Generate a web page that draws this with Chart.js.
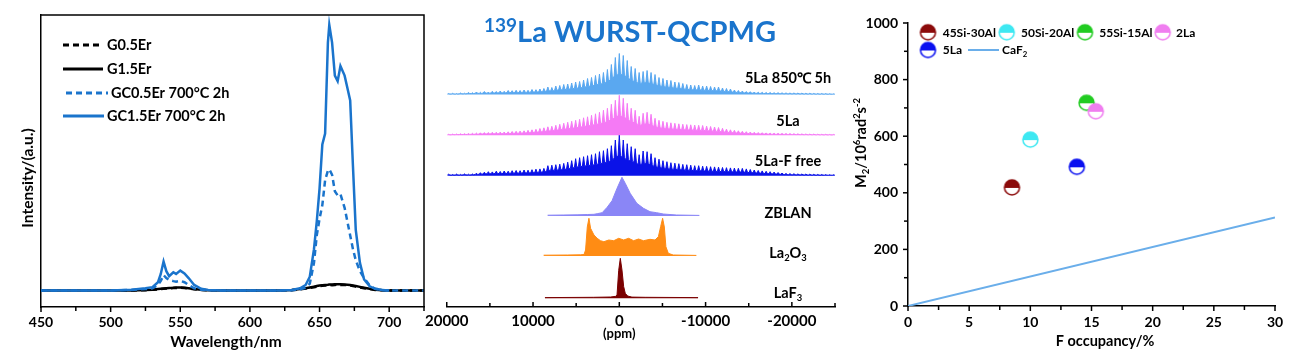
<!DOCTYPE html>
<html>
<head>
<meta charset="utf-8">
<script src="https://cdn.jsdelivr.net/npm/chart.js@4.4.1/dist/chart.umd.min.js"></script>
<style>
  body { margin: 0; background: #fff; width: 1299px; height: 358px; overflow: hidden; position: relative; }
  canvas { position: absolute; top: 0; }
  #pl { left: 0; }
  #nmr { left: 420px; }
  #m2 { left: 845px; }
</style>
</head>
<body>
<canvas id="pl" width="440" height="358"></canvas>
<canvas id="nmr" width="450" height="358"></canvas>
<canvas id="m2" width="454" height="358"></canvas>
<script>
// ---------- panel 1: emission spectra ----------
const wavelength = [450, 500, 515, 525, 530, 534, 536, 538, 540, 542, 545, 547, 550, 553, 556, 560, 565, 570, 580, 620,
  630, 636, 640, 643, 646, 648, 650, 652, 654, 656, 657, 659, 661, 663, 665, 668, 670, 672, 674, 676, 679, 682, 686, 690, 695, 700, 725];
const g05Er = [0, 0, 0, 0.001, 0.003, 0.004, 0.005, 0.006, 0.007, 0.008, 0.009, 0.009, 0.01, 0.009, 0.007, 0.004, 0.002, 0.001, 0, 0,
  0.001, 0.004, 0.007, 0.009, 0.012, 0.014, 0.016, 0.017, 0.018, 0.019, 0.02, 0.019, 0.02, 0.021, 0.02, 0.02, 0.019, 0.018, 0.016, 0.014, 0.011, 0.008, 0.005, 0.002, 0.001, 0, 0];
const g15Er = [0, 0, 0, 0.002, 0.003, 0.005, 0.006, 0.007, 0.008, 0.009, 0.01, 0.011, 0.011, 0.01, 0.008, 0.005, 0.003, 0.001, 0, 0,
  0.002, 0.005, 0.008, 0.011, 0.014, 0.016, 0.018, 0.019, 0.02, 0.021, 0.022, 0.022, 0.023, 0.023, 0.023, 0.022, 0.021, 0.02, 0.018, 0.016, 0.013, 0.01, 0.006, 0.003, 0.001, 0, 0];
const gc05Er = [0, 0, 0.002, 0.005, 0.008, 0.02, 0.035, 0.056, 0.045, 0.038, 0.034, 0.032, 0.035, 0.03, 0.02, 0.008, 0.003, 0.001, 0, 0,
  0.001, 0.004, 0.01, 0.025, 0.1, 0.2, 0.26, 0.31, 0.4, 0.435, 0.44, 0.42, 0.36, 0.345, 0.35, 0.3, 0.25, 0.2, 0.15, 0.11, 0.07, 0.045, 0.018, 0.006, 0.002, 0, 0];
const gc15Er = [0, 0, 0.003, 0.008, 0.012, 0.03, 0.06, 0.105, 0.07, 0.052, 0.066, 0.06, 0.072, 0.062, 0.045, 0.02, 0.006, 0.002, 0, 0,
  0.002, 0.008, 0.02, 0.05, 0.15, 0.25, 0.37, 0.53, 0.57, 0.9, 0.964, 0.9, 0.78, 0.76, 0.815, 0.78, 0.735, 0.69, 0.45, 0.22, 0.1, 0.04, 0.015, 0.006, 0.002, 0, null];
const plNames = ['G0.5Er', 'G1.5Er', 'GC0.5Er 700°C 2h', 'GC1.5Er 700°C 2h'];

// ---------- panel 2: 139La WURST-QCPMG ----------
// spikelet heights, left (high ppm) to right, one per spikelet
const spikeStep = 460;
const firstSpike = 19780;
const la850 = [1, 1.2, 1, 1.5, 1.3, 2, 1.8, 2.5, 2.2, 3, 2.5, 3.2, 3, 3.5, 3.2, 4, 3.8, 4.2, 4, 4.5,
  4.2, 5, 4.8, 5.5, 6, 7.5, 7, 8.5, 9, 10, 10.5, 11.5, 12.5, 13, 14.5, 16, 17, 19, 20.5, 22,
  25, 30, 37, 41, 39, 34, 28, 26, 22, 23, 24, 22, 20, 17, 16, 14.5, 14, 12.5, 12, 11,
  10, 9.5, 9, 9.5, 8.5, 8.5, 8, 7.5, 7.5, 6.5, 6, 5.5, 4.5, 4, 3.5, 3, 2.8, 2.5, 2.3, 2.2,
  2, 2, 1.8, 1.8, 1.7, 1.6, 1.5, 1.5, 1.4, 1.3, 1.2, 1.2, 1.1, 1, 1, 0.9, 0.8, 0.7];
const la5 = [1, 1.2, 1.3, 1.5, 1.6, 1.8, 2, 2.2, 2.5, 2.7, 2.8, 3, 3, 3.2, 3.3, 3.5, 3.8, 4, 4.2, 4.5,
  5, 5.5, 6, 6.8, 7.5, 8.5, 9, 10, 11, 12, 13, 14, 15, 16, 17.5, 18.5, 20, 21.5, 23, 25,
  27, 31, 35, 40, 37, 32, 27, 25, 19, 22, 23, 21, 17, 15, 14, 13, 12.5, 12, 11.5, 11,
  10.7, 10.5, 10.2, 10, 9.8, 9.2, 8.8, 8.3, 7.8, 7, 6.2, 5.5, 5, 4.5, 4, 3.6, 3.3, 3, 2.8, 2.6,
  2.4, 2.2, 2.1, 2, 1.9, 1.8, 1.7, 1.6, 1.5, 1.4, 1.3, 1.2, 1.2, 1.1, 1, 1, 0.9, 0.9];
const la5Ffree = [1.5, 1.2, 1.6, 1.3, 1.8, 1.5, 1.7, 2.5, 3, 3.5, 4, 3.8, 4.5, 4.2, 4.7, 4.5, 5, 5.2, 5, 5.7,
  5.5, 6, 6.5, 6.8, 7.3, 10, 10.5, 11, 11.5, 12.3, 13.5, 15, 17, 18, 19, 20, 21, 22, 24, 25,
  27, 30, 35.7, 40.7, 35.7, 32, 29, 27, 21, 24.7, 24, 22, 18, 16.5, 15, 14, 13, 12.5, 12, 11.3,
  11, 10.5, 10, 10, 9.5, 9.3, 9, 8.8, 8.5, 8.2, 8, 7.8, 7.6, 7.4, 7.3, 6.8, 6.2, 5.7, 5.2, 4.8,
  4.4, 4, 3.6, 3.2, 2.7, 2.3, 2.1, 2, 1.8, 1.7, 1.6, 1.5, 1.4, 1.3, 1.2, 1.1, 1, 1];
const zblanPpm = [8310, 6500, 4800, 3700, 2940, 2560, 1990, 1410, 840, 260, -310, -690, -1260, -2030, -2800, -3560, -4330, -5100, -6630, -9280];
const zblanInt = [0.8, 1, 1.2, 1.5, 1.7, 2.3, 3.3, 8.7, 15.3, 27.7, 38.7, 32.7, 22.7, 12.7, 7.7, 4.3, 3.3, 2, 1, 0.6];
const la2o3Ppm = [8770, 6000, 4500, 4090, 3910, 3710, 3520, 3330, 2940, 2560, 2180, 1790, 1220, 640, 70, -510, -1080, -1660, -2230, -2800,
  -3560, -4140, -4530, -4790, -5020, -5220, -5400, -5680, -6250, -8930];
const la2o3Int = [0.8, 1, 1.2, 1.5, 6, 29, 37.7, 27.7, 21, 17.7, 15.3, 14.3, 16, 15.3, 17.7, 16, 17.7, 15.3, 17, 15.3,
  16.7, 16, 19.3, 29.3, 37.7, 29, 9.3, 2.7, 1, 0.6];
const laf3Ppm = [8620, 3000, 1000, 400, 264, 69, -115, -310, -506, -690, -966, -1460, -3000, -9130];
const laf3Int = [0.7, 1, 1.3, 2, 3.3, 28, 40, 28.3, 11.7, 5, 2.3, 1.2, 1, 0.7];
const nmrNames = ['5La 850℃ 5h', '5La', '5La-F free', 'ZBLAN', 'La2O3', 'LaF3'];

// ---------- panel 3: M2 vs F occupancy ----------
const samples = ['45Si-30Al', '50Si-20Al', '55Si-15Al', '2La', '5La'];
const fOccupancy = [8.5, 10.0, 14.6, 15.35, 13.8];
const m2Values = [419, 588, 718, 688, 492];
const caf2X = [0, 30];
const caf2Y = [0, 313];

// ---------- helpers ----------
const BLUE = '#1a74cc';
const FONT = 'Lato';
Chart.defaults.font.family = FONT;
Chart.defaults.font.weight = 'bold';
Chart.defaults.font.size = 14;
Chart.defaults.color = '#000';
Chart.defaults.animation = false;

// parts: [text, 0 normal | 1 sub | 2 sup]
function richText(ctx, parts, x, y, size, align, rot, color) {
  ctx.save();
  ctx.translate(x, y);
  if (rot) ctx.rotate(rot);
  ctx.fillStyle = color || '#000';
  ctx.textBaseline = 'alphabetic';
  ctx.textAlign = 'left';
  const fonts = parts.map(p => `bold ${p[1] ? size * 0.65 : size}px ${FONT}`);
  let total = 0;
  const widths = parts.map((p, i) => { ctx.font = fonts[i]; const w = ctx.measureText(p[0]).width; total += w; return w; });
  let cx = align === 'center' ? -total / 2 : align === 'right' ? -total : 0;
  parts.forEach((p, i) => {
    ctx.font = fonts[i];
    const dy = p[1] === 1 ? size * 0.22 : p[1] === 2 ? -size * 0.38 : 0;
    ctx.fillText(p[0], cx, dy);
    cx += widths[i];
  });
  ctx.restore();
}

const tickMarks = {
  id: 'tickMarks',
  afterDraw(chart, args, opts) {
    const ctx = chart.ctx;
    ctx.save();
    ctx.strokeStyle = '#000';
    ctx.lineWidth = 1.5;
    (opts.axes || []).forEach(a => {
      const s = chart.scales[a.id];
      s.ticks.forEach(t => {
        const major = Math.abs(t.value % a.every) < 1e-6;
        const len = major ? a.major : a.minor;
        const p = s.getPixelForValue(t.value);
        ctx.beginPath();
        if (s.isHorizontal()) { ctx.moveTo(p, s.top); ctx.lineTo(p, s.top + a.dir * len); }
        else { ctx.moveTo(s.right, p); ctx.lineTo(s.right - a.dir * len, p); }
        ctx.stroke();
      });
    });
    ctx.restore();
  }
};

function halfDot(color, r) {
  const c = document.createElement('canvas');
  const s = Math.ceil(2 * r + 4);
  c.width = c.height = s;
  const g = c.getContext('2d');
  const m = s / 2;
  g.beginPath(); g.arc(m, m, r, 0, 2 * Math.PI); g.fillStyle = '#fff'; g.fill();
  g.save(); g.beginPath(); g.rect(0, 0, s, m + 0.5); g.clip();
  g.beginPath(); g.arc(m, m, r, 0, 2 * Math.PI); g.fillStyle = color; g.fill();
  g.restore();
  g.beginPath(); g.arc(m, m, r, 0, 2 * Math.PI); g.lineWidth = 1.5; g.strokeStyle = color; g.stroke();
  return c;
}

function xy(xs, ys) { return xs.map((x, i) => ({ x: x, y: ys[i] })); }

function draw() {
  // ---------- panel 1 ----------
  const plStyles = [
    { color: '#000', dash: [6, 4], order: 2 },
    { color: '#000', dash: [], order: 2 },
    { color: BLUE, dash: [6, 4], order: 1 },
    { color: BLUE, dash: [], order: 0 }
  ];
  const plSeries = [g05Er, g15Er, gc05Er, gc15Er];

  new Chart(document.getElementById('pl'), {
    type: 'line',
    data: {
      datasets: plSeries.map((s, i) => ({
        label: plNames[i],
        data: xy(wavelength, s),
        borderColor: plStyles[i].color,
        borderDash: plStyles[i].dash,
        borderWidth: 2.5,
        pointRadius: 0,
        order: plStyles[i].order
      }))
    },
    options: {
      responsive: false, devicePixelRatio: 1, events: [],
      layout: { padding: { left: 0, top: 15, right: 16, bottom: 0 } },
      scales: {
        x: {
          type: 'linear', min: 450, max: 725,
          grid: { display: false, drawTicks: false },
          border: { display: true, color: '#000', width: 1.5 },
          ticks: { stepSize: 25, autoSkip: false, maxRotation: 0, padding: 7,
            callback: v => v % 50 === 0 ? String(v) : '' },
          afterFit: s => { s.height = 51; }
        },
        y: {
          min: -0.06, max: 1,
          grid: { display: false, drawTicks: false },
          border: { display: true, color: '#000', width: 1.5 },
          ticks: { display: false },
          afterFit: s => { s.width = 41; }
        }
      },
      plugins: {
        legend: { display: false }, tooltip: { enabled: false },
        tickMarks: { axes: [{ id: 'x', every: 50, major: 5, minor: 4, dir: 1 }] }
      }
    },
    plugins: [tickMarks, {
      id: 'plDecor',
      afterDraw(chart) {
        const ctx = chart.ctx, a = chart.chartArea;
        ctx.save();
        ctx.strokeStyle = '#000'; ctx.lineWidth = 1.5;
        ctx.beginPath(); ctx.moveTo(a.left, a.top); ctx.lineTo(a.right, a.top); ctx.lineTo(a.right, a.bottom); ctx.stroke();
        // legend
        const rows = [45, 69, 93, 116];
        const lx = [[63, 103, 107], [63, 103, 107], [66, 108, 111], [63, 104, 107]];
        rows.forEach((ry, i) => {
          ctx.strokeStyle = plStyles[i].color; ctx.lineWidth = 3;
          ctx.setLineDash(plStyles[i].dash);
          ctx.beginPath(); ctx.moveTo(lx[i][0], ry); ctx.lineTo(lx[i][1], ry); ctx.stroke();
          ctx.setLineDash([]);
          richText(ctx, [[plNames[i], 0]], lx[i][2], ry + 5.2, 14.5, 'left');
        });
        richText(ctx, [['Wavelength/nm', 0]], 226, 347, 15.5, 'center');
        richText(ctx, [['Intensity/(a.u.)', 0]], 33, 178, 15.5, 'center', -Math.PI / 2);
        ctx.restore();
      }
    }]
  });

  // ---------- panel 2 ----------
  const troughRatio = 0.5;
  function spikeTrace(heights, base) {
    const pts = [];
    heights.forEach((h, i) => {
      const p = firstSpike - i * spikeStep;
      pts.push({ x: p + spikeStep * 0.3, y: base + h * troughRatio });
      pts.push({ x: p, y: base + h });
      pts.push({ x: p - spikeStep * 0.3, y: base + h * troughRatio });
    });
    return pts;
  }
  function smoothTrace(ppm, ints, base) { return ppm.map((p, i) => ({ x: p, y: base + ints[i] })); }

  const nmrBase = [212.5, 171.7, 131.3, 91, 51, 8.7];
  const nmrColors = ['#5aa8f0', '#f57af5', '#0a12e8', '#8a86f6', '#ff8c14', '#7a0000'];
  const nmrData = [
    spikeTrace(la850, nmrBase[0]),
    spikeTrace(la5, nmrBase[1]),
    spikeTrace(la5Ffree, nmrBase[2]),
    smoothTrace(zblanPpm, zblanInt, nmrBase[3]),
    smoothTrace(la2o3Ppm, la2o3Int, nmrBase[4]),
    smoothTrace(laf3Ppm, laf3Int, nmrBase[5])
  ];
  const nmrLabelParts = [
    [[nmrNames[0], 0]], [[nmrNames[1], 0]], [[nmrNames[2], 0]], [[nmrNames[3], 0]],
    [['La', 0], ['2', 1], ['O', 0], ['3', 1]],
    [['LaF', 0], ['3', 1]]
  ];
  const nmrLabelY = [82.5, 126, 166, 217.5, 258, 298];

  new Chart(document.getElementById('nmr'), {
    type: 'line',
    data: {
      datasets: nmrData.map((d, i) => ({
        label: nmrNames[i],
        data: d,
        borderColor: nmrColors[i],
        backgroundColor: nmrColors[i],
        borderWidth: 1,
        pointRadius: 0,
        fill: { value: nmrBase[i] }
      }))
    },
    options: {
      responsive: false, devicePixelRatio: 1, events: [],
      layout: { padding: { left: 24, top: 7, right: 35, bottom: 0 } },
      scales: {
        x: {
          type: 'linear', min: -25000, max: 20000, reverse: true,
          grid: { display: false, drawTicks: false },
          border: { display: true, color: '#000', width: 1.5 },
          ticks: { stepSize: 5000, autoSkip: false, maxRotation: 0, padding: 5, font: { size: 15 },
            callback: v => v % 10000 === 0 ? String(v) : '' },
          afterFit: s => { s.height = 51; }
        },
        y: { display: false, min: 0, max: 300 }
      },
      plugins: {
        legend: { display: false }, tooltip: { enabled: false },
        tickMarks: { axes: [{ id: 'x', every: 10000, major: 5, minor: 4, dir: -1 }] }
      }
    },
    plugins: [tickMarks, {
      id: 'nmrDecor',
      afterDraw(chart) {
        const ctx = chart.ctx;
        const zero = chart.scales.x.getPixelForValue(0);
        richText(ctx, [['(ppm)', 0]], zero, 338, 13, 'center');
        nmrLabelParts.forEach((parts, i) => richText(ctx, parts, 368, nmrLabelY[i], 14.5, 'center'));
        // title
        ctx.save();
        ctx.fillStyle = BLUE;
        ctx.textBaseline = 'alphabetic';
        ctx.font = `bold 19px ${FONT}`;
        const w1 = ctx.measureText('139').width;
        ctx.font = `bold 29px ${FONT}`;
        const w2 = ctx.measureText('La WURST-QCPMG').width;
        const x0 = 210 - (w1 + w2) / 2;
        ctx.fillText('La WURST-QCPMG', x0 + w1, 41.7);
        ctx.font = `bold 19px ${FONT}`;
        ctx.fillText('139', x0, 31.5);
        ctx.restore();
      }
    }]
  });

  // ---------- panel 3 ----------
  const sampleColors = ['#8b0a0a', '#3ee8f2', '#22cc22', '#f07ef0', '#0a10f0'];
  const dots = sampleColors.map(c => halfDot(c, 7.5));
  const CAF2 = '#6aaeea';

  new Chart(document.getElementById('m2'), {
    type: 'scatter',
    data: {
      datasets: samples.map((s, i) => ({
        label: s,
        data: [{ x: fOccupancy[i], y: m2Values[i] }],
        pointStyle: dots[i],
        pointRadius: 8,
        order: samples.length - i
      })).concat([{
        label: 'CaF2',
        data: xy(caf2X, caf2Y),
        showLine: true,
        borderColor: CAF2,
        borderWidth: 2,
        pointRadius: 0,
        order: 10
      }])
    },
    options: {
      responsive: false, devicePixelRatio: 1, events: [],
      layout: { padding: { left: 0, top: 23, right: 24, bottom: 0 } },
      scales: {
        x: {
          type: 'linear', min: 0, max: 30,
          grid: { display: false, drawTicks: false },
          border: { display: true, color: '#000', width: 1.5 },
          ticks: { stepSize: 2.5, autoSkip: false, maxRotation: 0, padding: 8,
            callback: v => v % 5 === 0 ? String(v) : '' },
          afterFit: s => { s.height = 52; }
        },
        y: {
          min: 0, max: 1000,
          grid: { display: false, drawTicks: false },
          border: { display: true, color: '#000', width: 1.5 },
          ticks: { stepSize: 100, autoSkip: false, padding: 10,
            callback: v => v % 200 === 0 ? String(v) : '' },
          afterFit: s => { s.width = 63; }
        }
      },
      plugins: {
        legend: { display: false }, tooltip: { enabled: false },
        tickMarks: { axes: [
          { id: 'x', every: 5, major: 5, minor: 4, dir: 1 },
          { id: 'y', every: 200, major: 5, minor: 4, dir: 1 }
        ] }
      }
    },
    plugins: [tickMarks, {
      id: 'm2Decor',
      afterDraw(chart) {
        const ctx = chart.ctx;
        const legendPos = [[83, 32.3, 97.7], [161.7, 32.3, 176], [240, 32.3, 254.3], [317.7, 32.3, 331], [83, 50, 97.7]];
        samples.forEach((s, i) => {
          const d = dots[i];
          const [mx, my, tx] = legendPos[i];
          ctx.drawImage(d, mx - d.width / 2, my - d.height / 2);
          richText(ctx, [[s, 0]], tx, my + 4.3, 12, 'left');
        });
        ctx.save();
        ctx.strokeStyle = CAF2; ctx.lineWidth = 2;
        ctx.beginPath(); ctx.moveTo(123, 50); ctx.lineTo(154, 50); ctx.stroke();
        ctx.restore();
        richText(ctx, [['CaF', 0], ['2', 1]], 157, 54.3, 12, 'left');
        richText(ctx, [['F occupancy/%', 0]], 260, 346, 14.5, 'center');
        richText(ctx, [['M', 0], ['2', 1], ['/10', 0], ['6', 2], ['rad', 0], ['2', 2], ['s', 0], ['-2', 2]],
          21, 143, 14.5, 'center', -Math.PI / 2);
      }
    }]
  });
}

document.fonts.load(`bold 14px ${FONT}`).then(draw, draw);
</script>
</body>
</html>
